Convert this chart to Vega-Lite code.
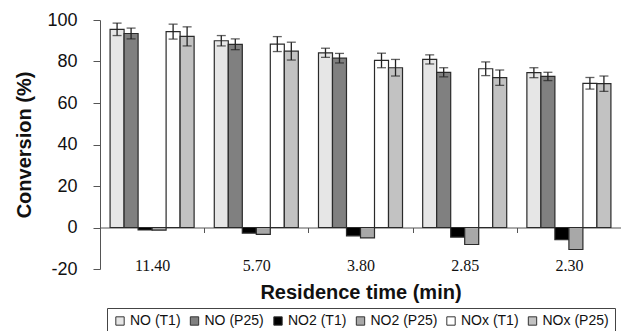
{
  "$schema": "https://vega.github.io/schema/vega-lite/v6.json",
  "width": 521,
  "height": 249,
  "autosize": "none",
  "padding": {"left": 100, "top": 20, "right": 0, "bottom": 62},
  "background": "white",
  "config": {"view": {"stroke": null}},
  "data": {"values": [
    {"time": "11.40", "series": "NO (T1)", "value": 95.5, "lo": 92.5, "hi": 98.5},
    {"time": "11.40", "series": "NO (P25)", "value": 93.5, "lo": 90.9, "hi": 96.1},
    {"time": "11.40", "series": "NO2 (T1)", "value": -1.2, "lo": null, "hi": null},
    {"time": "11.40", "series": "NO2 (P25)", "value": -1.3, "lo": null, "hi": null},
    {"time": "11.40", "series": "NOx (T1)", "value": 94.4, "lo": 90.8, "hi": 98.0},
    {"time": "11.40", "series": "NOx (P25)", "value": 92.1, "lo": 87.5, "hi": 96.7},
    {"time": "5.70", "series": "NO (T1)", "value": 90.0, "lo": 87.5, "hi": 92.5},
    {"time": "5.70", "series": "NO (P25)", "value": 88.3, "lo": 85.7, "hi": 90.9},
    {"time": "5.70", "series": "NO2 (T1)", "value": -2.7, "lo": null, "hi": null},
    {"time": "5.70", "series": "NO2 (P25)", "value": -3.3, "lo": null, "hi": null},
    {"time": "5.70", "series": "NOx (T1)", "value": 88.4, "lo": 84.8, "hi": 92.0},
    {"time": "5.70", "series": "NOx (P25)", "value": 85.0, "lo": 80.7, "hi": 89.3},
    {"time": "3.80", "series": "NO (T1)", "value": 84.2, "lo": 82.0, "hi": 86.4},
    {"time": "3.80", "series": "NO (P25)", "value": 81.6, "lo": 79.3, "hi": 83.9},
    {"time": "3.80", "series": "NO2 (T1)", "value": -4.0, "lo": null, "hi": null},
    {"time": "3.80", "series": "NO2 (P25)", "value": -5.0, "lo": null, "hi": null},
    {"time": "3.80", "series": "NOx (T1)", "value": 80.5, "lo": 77.0, "hi": 84.0},
    {"time": "3.80", "series": "NOx (P25)", "value": 77.0, "lo": 73.0, "hi": 81.0},
    {"time": "2.85", "series": "NO (T1)", "value": 81.0, "lo": 78.8, "hi": 83.2},
    {"time": "2.85", "series": "NO (P25)", "value": 74.8, "lo": 72.6, "hi": 77.0},
    {"time": "2.85", "series": "NO2 (T1)", "value": -4.6, "lo": null, "hi": null},
    {"time": "2.85", "series": "NO2 (P25)", "value": -8.2, "lo": null, "hi": null},
    {"time": "2.85", "series": "NOx (T1)", "value": 76.5, "lo": 73.2, "hi": 79.8},
    {"time": "2.85", "series": "NOx (P25)", "value": 72.2, "lo": 68.5, "hi": 75.9},
    {"time": "2.30", "series": "NO (T1)", "value": 74.6, "lo": 72.2, "hi": 77.0},
    {"time": "2.30", "series": "NO (P25)", "value": 72.8, "lo": 70.8, "hi": 74.8},
    {"time": "2.30", "series": "NO2 (T1)", "value": -5.9, "lo": null, "hi": null},
    {"time": "2.30", "series": "NO2 (P25)", "value": -10.6, "lo": null, "hi": null},
    {"time": "2.30", "series": "NOx (T1)", "value": 69.5, "lo": 66.7, "hi": 72.3},
    {"time": "2.30", "series": "NOx (P25)", "value": 69.3, "lo": 65.6, "hi": 73.0}
  ]},
  "encoding": {
    "x": {
      "field": "time", "type": "nominal", "sort": null,
      "scale": {"paddingInner": 0, "paddingOuter": 0},
      "axis": {
        "offset": -41.5, "labelAngle": 0, "tickBand": "extent", "tickSize": 5,
        "domainColor": "#555", "tickColor": "#555", "domainWidth": 1,
        "labelFont": "Liberation Serif", "labelFontSize": 16, "labelColor": "#111",
        "labelPadding": 25, "title": "Residence time (min)",
        "titleFont": "Liberation Sans", "titleFontSize": 20, "titleFontWeight": "bold",
        "titleColor": "#111", "titlePadding": 9
      }
    },
    "xOffset": {
      "field": "series", "type": "nominal", "sort": null,
      "scale": {"paddingInner": 0, "paddingOuter": 0.72}
    }
  },
  "layer": [
    {
      "mark": {"type": "bar", "stroke": "#2a2a2a", "strokeWidth": 1.2},
      "encoding": {
        "y": {
          "field": "value", "type": "quantitative",
          "scale": {"domain": [-20, 100], "nice": false, "zero": true},
          "axis": {
            "values": [-20, 0, 20, 40, 60, 80, 100], "grid": false,
            "labelExpr": "datum.value",
            "tickSize": 7, "domainColor": "#555", "tickColor": "#555",
            "labelFont": "Liberation Sans", "labelFontSize": 18, "labelColor": "#111",
            "labelPadding": 16, "title": "Conversion (%)",
            "titleFont": "Liberation Sans", "titleFontSize": 20, "titleFontWeight": "bold",
            "titleColor": "#111", "titlePadding": 12
          }
        },
        "fill": {
          "field": "series", "type": "nominal", "sort": null,
          "scale": {
            "domain": ["NO (T1)", "NO (P25)", "NO2 (T1)", "NO2 (P25)", "NOx (T1)", "NOx (P25)"],
            "range": ["#e6e6e6", "#808080", "#000000", "#a8a8a8", "#ffffff", "#c2c2c2"]
          },
          "legend": {
            "orient": "none", "legendX": 7, "legendY": 288, "direction": "horizontal",
            "columns": 6, "gridAlign": "each", "title": null, "symbolType": "square", "symbolSize": 70,
            "symbolStrokeColor": "#333", "symbolStrokeWidth": 1,
            "labelFont": "Liberation Sans", "labelFontSize": 14, "labelColor": "#111",
            "labelOffset": 3, "columnPadding": 6.5, "padding": 6,
            "strokeColor": "#444", "fillColor": "white"
          }
        }
      }
    },
    {
      "transform": [{"filter": "datum.lo != null"}],
      "mark": {"type": "rule", "color": "#222", "strokeWidth": 1.3},
      "encoding": {
        "y": {"field": "lo", "type": "quantitative"},
        "y2": {"field": "hi"}
      }
    },
    {
      "transform": [{"filter": "datum.lo != null"}],
      "mark": {"type": "tick", "color": "#222", "thickness": 1.3, "size": 9},
      "encoding": {"y": {"field": "lo", "type": "quantitative"}}
    },
    {
      "transform": [{"filter": "datum.lo != null"}],
      "mark": {"type": "tick", "color": "#222", "thickness": 1.3, "size": 9},
      "encoding": {"y": {"field": "hi", "type": "quantitative"}}
    }
  ]
}
